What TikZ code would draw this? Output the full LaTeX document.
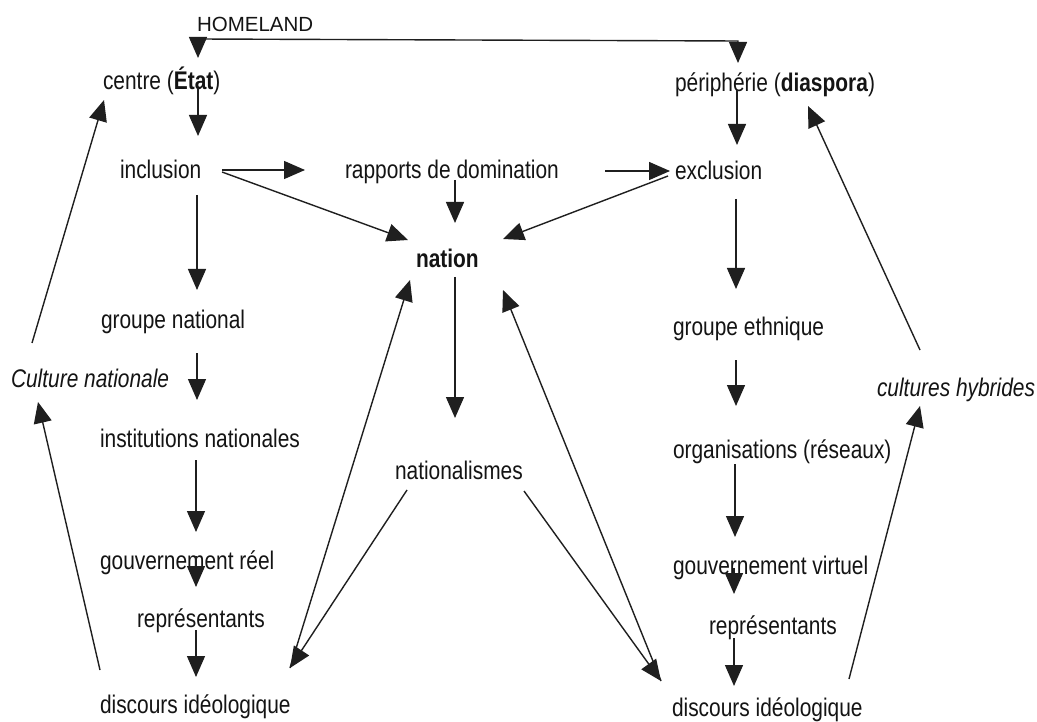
\documentclass[tikz,border=0pt]{standalone}
\usepackage{fontspec}
\setmainfont{Liberation Sans}[FakeStretch=0.82]
\newfontfamily\homefont{Liberation Sans}
\usetikzlibrary{arrows.meta}
\begin{document}
\begin{tikzpicture}[x=1pt,y=-1pt,
  lbl/.style={anchor=base west,inner sep=0pt,outer sep=0pt,
    font=\fontsize{25.5}{30}\selectfont,text=black!92},
  tip/.tip={Triangle[length=21pt,width=18pt]},
  arr/.style={line width=1.4pt,draw=black!88,-tip},
  plain/.style={line width=1.4pt,draw=black!88}]
\useasboundingbox[fill=white] (0,0) rectangle (1037,722);

% ---- labels ----
\node[lbl,font=\homefont\fontsize{20.5}{24}\selectfont] (home) at (197,32) {HOMELAND};
\node[lbl] (centre) at (103,90) {centre (\textbf{État})};
\node[lbl] (peri) at (675,92) {périphérie (\textbf{diaspora})};
\node[lbl] (incl) at (120,179) {inclusion};
\node[lbl] (rapp) at (345,179) {rapports de domination};
\node[lbl] (excl) at (675,180) {exclusion};
\node[lbl] (nation) at (416,268) {\textbf{nation}};
\node[lbl] (gnat) at (101,328) {groupe national};
\node[lbl] (cnat) at (11,387) {\itshape Culture nationale};
\node[lbl] (inst) at (100,447) {institutions nationales};
\node[lbl] (nlism) at (395,479) {nationalismes};
\node[lbl] (greel) at (100,569) {gouvernement réel};
\node[lbl] (repL) at (137,627) {représentants};
\node[lbl] (discL) at (100,713) {discours idéologique};
\node[lbl] (geth) at (673,335) {groupe ethnique};
\node[lbl] (chyb) at (877,396) {\itshape cultures hybrides};
\node[lbl] (orga) at (673,458) {organisations (réseaux)};
\node[lbl] (gvirt) at (673,574) {gouvernement virtuel};
\node[lbl] (repR) at (709,634) {représentants};
\node[lbl] (discR) at (672,716) {discours idéologique};

% ---- connector end points ----
\coordinate (hL) at (198,58);
\coordinate (hLc) at (198,39);
\coordinate (hRc) at (738,41);
\coordinate (hR) at (738,63);
\coordinate (centreS) at (198,88);   \coordinate (centreT) at (198,136);
\coordinate (periS) at (737,90);     \coordinate (periT) at (737,145);
\coordinate (inclE) at (222,170);    \coordinate (rappW) at (305,170);
\coordinate (rappE) at (605,171);    \coordinate (exclW) at (670,171);
\coordinate (inclSE) at (222,172);   \coordinate (nationNW) at (408,240);
\coordinate (rappS) at (455,180);    \coordinate (nationN) at (455,223);
\coordinate (exclSW) at (668,176);   \coordinate (nationNE) at (503,239);
\coordinate (inclS) at (197,195);    \coordinate (gnatN) at (197,290);
\coordinate (gnatS) at (197,353);    \coordinate (instN) at (197,400);
\coordinate (instS) at (196,460);    \coordinate (greelN) at (196,532);
\coordinate (greelS) at (196,556);   \coordinate (repLN) at (196,587);
\coordinate (repLS) at (196,630);    \coordinate (discLN) at (196,677);
\coordinate (cnatN) at (32,343);     \coordinate (centreSW) at (104,100);
\coordinate (discLW) at (100,670);   \coordinate (cnatS) at (38,402);
\coordinate (nationS) at (455,277);  \coordinate (nlismN) at (455,418);
\coordinate (discLNE) at (290,668);  \coordinate (nationSW) at (410,280);
\coordinate (nlismSW) at (407,490);
\coordinate (discRNW) at (661,681);  \coordinate (nationSE) at (503,290);
\coordinate (nlismSE) at (524,491);
\coordinate (exclS) at (736,199);    \coordinate (gethN) at (736,289);
\coordinate (gethS) at (736,360);    \coordinate (orgaN) at (736,406);
\coordinate (orgaS) at (735,464);    \coordinate (gvirtN) at (735,537);
\coordinate (gvirtS) at (734,568);   \coordinate (repRN) at (734,594);
\coordinate (repRS) at (734,638);    \coordinate (discRN) at (734,686);
\coordinate (discRE) at (849,679);   \coordinate (chybS) at (920,406);
\coordinate (chybN) at (920,350);    \coordinate (periSE) at (808,106);

% ---- HOMELAND bracket ----
\draw[plain,tip-tip] (hL) -- (hLc) -- (hRc) -- (hR);

% ---- connectors ----
\draw[arr] (centreS) -- (centreT);
\draw[arr] (periS) -- (periT);
\draw[arr] (inclE) -- (rappW);
\draw[arr] (rappE) -- (exclW);
\draw[arr] (inclSE) -- (nationNW);
\draw[arr] (rappS) -- (nationN);
\draw[arr] (exclSW) -- (nationNE);

\draw[arr] (inclS) -- (gnatN);
\draw[arr] (gnatS) -- (instN);
\draw[arr] (instS) -- (greelN);
\draw[arr] (greelS) -- (repLN);
\draw[arr] (repLS) -- (discLN);

\draw[arr] (cnatN) -- (centreSW);
\draw[arr] (discLW) -- (cnatS);

\draw[arr] (nationS) -- (nlismN);
\draw[arr] (discLNE) -- (nationSW);
\draw[arr] (nlismSW) -- (discLNE);
\draw[arr] (discRNW) -- (nationSE);
\draw[arr] (nlismSE) -- (discRNW);

\draw[arr] (exclS) -- (gethN);
\draw[arr] (gethS) -- (orgaN);
\draw[arr] (orgaS) -- (gvirtN);
\draw[arr] (gvirtS) -- (repRN);
\draw[arr] (repRS) -- (discRN);

\draw[arr] (discRE) -- (chybS);
\draw[arr] (chybN) -- (periSE);
\end{tikzpicture}
\end{document}
